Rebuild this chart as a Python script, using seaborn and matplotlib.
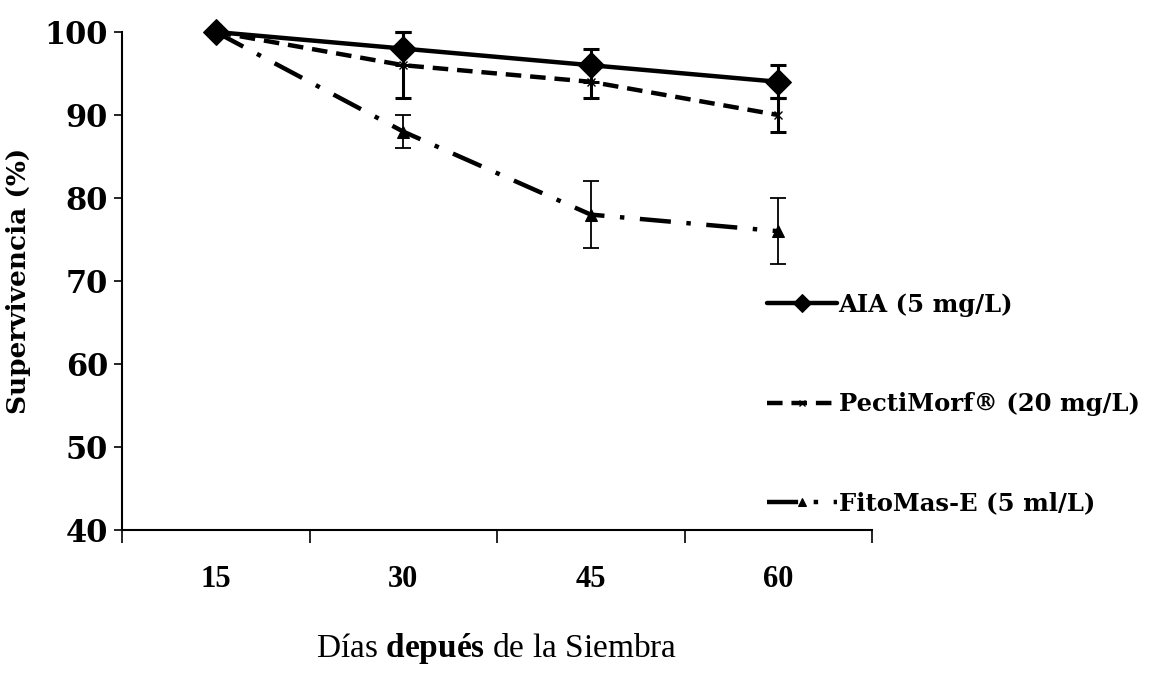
import matplotlib
matplotlib.use("Agg")
import matplotlib.pyplot as plt
import seaborn as sns
import pandas as pd
import numpy as np

days = ["15", "30", "45", "60"]
aia = [100, 98, 96, 94]
aia_err = [0, 2, 2, 2]
pecti = [100, 96, 94, 90]
pecti_err = [0, 4, 2, 2]
fito = [100, 88, 78, 76]
fito_err = [0, 2, 4, 4]
labels = ["AIA (5 mg/L)", "PectiMorf® (20 mg/L)", "FitoMas-E (5 ml/L)"]

sns.set_theme(style="white")
plt.rcParams["mathtext.fontset"] = "custom"
plt.rcParams["mathtext.rm"] = "Liberation Serif"
plt.rcParams["mathtext.bf"] = "Liberation Serif:bold"
plt.rcParams["text.color"] = "black"
plt.rcParams["xtick.color"] = "black"
plt.rcParams["ytick.color"] = "black"
plt.rcParams["xtick.labelcolor"] = "black"
plt.rcParams["ytick.labelcolor"] = "black"

fig = plt.figure(figsize=(11.72, 6.73), dpi=100)
ax = fig.add_axes([122/1172, 1-530/673, 750/1172, 498/673])

xpos = np.arange(len(days))
series = [
    (aia, aia_err, dict(marker="D", markersize=13, linewidth=3.2, linestyle="-"), 2.2),
    (pecti, pecti_err, dict(marker="x", markersize=6, markeredgewidth=1, linewidth=3.2, linestyle=(0, (3.5, 2))), 2.2),
    (fito, fito_err, dict(marker="^", markersize=8, linewidth=3.2, linestyle=(0, (7, 3.5, 1, 3.5))), 1.3),
]
handles = []
for (vals, errs, style, elw), lab in zip(series, labels):
    df = pd.DataFrame({"x": xpos, "y": vals})
    sns.lineplot(data=df, x="x", y="y", ax=ax, color="black", clip_on=False,
                 markeredgecolor="black", label=lab, legend=False, **style)
    handles.append(ax.lines[-1])
    ax.errorbar(xpos[1:], vals[1:], yerr=errs[1:], fmt="none", ecolor="black",
                elinewidth=elw, capsize=6, capthick=elw, clip_on=False, zorder=1)

ax.set_xlim(-0.5, 3.5)
ax.set_ylim(40, 100)
ax.set_yticks(range(40, 101, 10))
ax.set_xticks(np.arange(-0.5, 3.6, 1.0))
ax.set_xticklabels([])
ax.set_xticks(xpos, minor=True)
ax.set_xticklabels(days, minor=True, fontfamily="Liberation Serif", fontweight="bold",
                   fontsize=22, color="black")
ax.tick_params(axis="x", which="major", direction="out", length=9, width=1.2, bottom=True, color="black")
ax.tick_params(axis="x", which="minor", length=0, pad=25, labelcolor="black")
ax.tick_params(axis="y", direction="out", length=6, width=1.2, left=True, color="black", pad=4)
for t in ax.get_yticklabels():
    t.set_fontfamily("DejaVu Serif")
    t.set_fontweight("bold")
    t.set_fontsize(22)
    t.set_color("black")
for s in ["top", "right"]:
    ax.spines[s].set_visible(False)
for s in ["left", "bottom"]:
    ax.spines[s].set_color("black")
    ax.spines[s].set_linewidth(1.5)

ax.set_xlabel(r"Días $\mathbf{depués}$ de la Siembra", fontfamily="Liberation Serif",
              fontsize=24, color="black", labelpad=27)
ax.set_ylabel("Supervivencia (%)", fontfamily="DejaVu Serif", fontweight="bold",
              fontsize=19, color="black", labelpad=10)

leg = fig.legend(handles, labels, loc="upper left", bbox_to_anchor=(745/1172, 1-271/673),
                 frameon=False, handlelength=2.9, handletextpad=0.05, labelspacing=3.1,
                 markerscale=0.7, prop=dict(family="DejaVu Serif", weight="bold", size=17.5))
for t in leg.get_texts():
    t.set_color("black")

fig.savefig("out.png", dpi=100)
